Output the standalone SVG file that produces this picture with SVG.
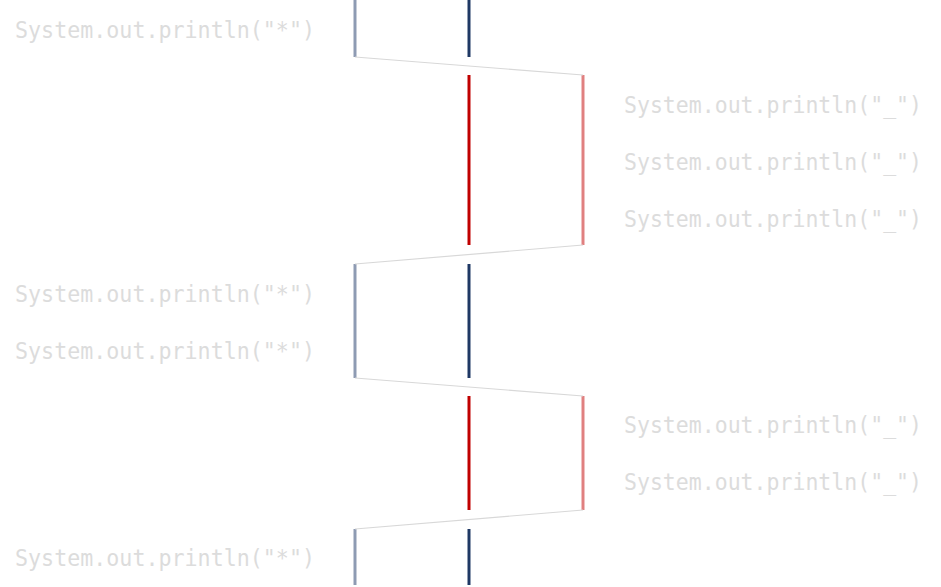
<svg xmlns="http://www.w3.org/2000/svg" width="941" height="587" viewBox="0 0 941 587">
<style>
.t{font-family:"DejaVu Sans Mono","Liberation Mono",monospace;font-size:22.5px;fill:#dcdcdc}
.a{stroke:#8e9bb3;stroke-width:3}
.b{stroke:#1f3864;stroke-width:3}
.r{stroke:#c00000;stroke-width:3}
.p{stroke:#e08080;stroke-width:3}
.c{stroke:#d8d8d8;stroke-width:1.2;fill:none}
</style>
<rect width="941" height="587" fill="#fff"/>
<g id="main1">
<line class="a" x1="355" y1="0" x2="355" y2="57"/>
<line class="b" x1="469" y1="0" x2="469" y2="57"/>
<text class="t" x="15" y="38" textLength="300" lengthAdjust="spacingAndGlyphs">System.out.println("*")</text>
</g>
<g id="thread1">
<line class="r" x1="469" y1="75" x2="469" y2="245"/>
<line class="p" x1="583" y1="75" x2="583" y2="245"/>
<text class="t" x="624" y="113" textLength="298" lengthAdjust="spacingAndGlyphs">System.out.println("_")</text>
<text class="t" x="624" y="170" textLength="298" lengthAdjust="spacingAndGlyphs">System.out.println("_")</text>
<text class="t" x="624" y="227" textLength="298" lengthAdjust="spacingAndGlyphs">System.out.println("_")</text>
</g>
<g id="main2">
<line class="a" x1="355" y1="264" x2="355" y2="378"/>
<line class="b" x1="469" y1="264" x2="469" y2="378"/>
<text class="t" x="15" y="302" textLength="300" lengthAdjust="spacingAndGlyphs">System.out.println("*")</text>
<text class="t" x="15" y="359" textLength="300" lengthAdjust="spacingAndGlyphs">System.out.println("*")</text>
</g>
<g id="thread2">
<line class="r" x1="469" y1="396" x2="469" y2="510"/>
<line class="p" x1="583" y1="396" x2="583" y2="510"/>
<text class="t" x="624" y="433" textLength="298" lengthAdjust="spacingAndGlyphs">System.out.println("_")</text>
<text class="t" x="624" y="490" textLength="298" lengthAdjust="spacingAndGlyphs">System.out.println("_")</text>
</g>
<g id="main3">
<line class="a" x1="355" y1="529" x2="355" y2="585"/>
<line class="b" x1="469" y1="529" x2="469" y2="585"/>
<text class="t" x="15" y="566" textLength="300" lengthAdjust="spacingAndGlyphs">System.out.println("*")</text>
</g>
<g id="connectors">
<line class="c" x1="355" y1="57" x2="583" y2="75"/>
<line class="c" x1="583" y1="245" x2="355" y2="264"/>
<line class="c" x1="355" y1="378" x2="583" y2="396"/>
<line class="c" x1="583" y1="510" x2="355" y2="529"/>
</g>
</svg>
